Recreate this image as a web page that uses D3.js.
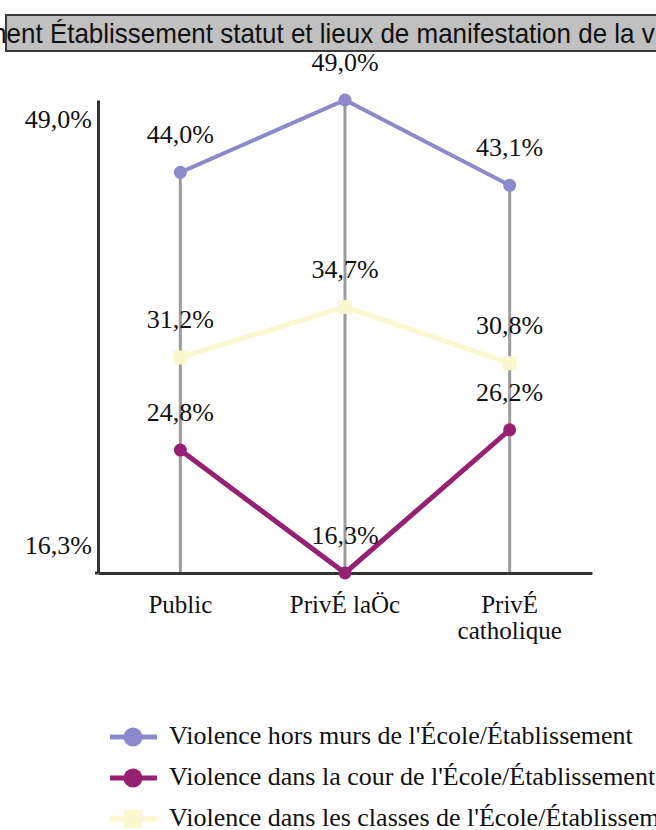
<!DOCTYPE html>
<html>
<head>
<meta charset="utf-8">
<script src="https://cdn.jsdelivr.net/npm/d3@7"></script>
<style>
  html, body { margin: 0; padding: 0; background: #fff; }
  svg { display: block; }
</style>
</head>
<body>
<div id="chart"></div>
<script>
/* ── Data ───────────────────────────────────────────────────────────── */
const categories = ['Public', 'PrivÉ laÖc', 'PrivÉ catholique'];
const categoryLines = [['Public'], ['PrivÉ laÖc'], ['PrivÉ', 'catholique']];
const seriesNames = [
  "Violence hors murs de l'École/Établissement",
  "Violence dans la cour de l'École/Établissement",
  "Violence dans les classes de l'École/Établissement"
];
const horsMurs = [44.0, 49.0, 43.1];
const cour     = [24.8, 16.3, 26.2];
const classes  = [31.2, 34.7, 30.8];
const yTicks   = [49.0, 16.3];
const title = "Répartition selon le type d'établissement Établissement statut et lieux de manifestation de la violence";

/* ── Style ──────────────────────────────────────────────────────────── */
const BLUE   = '#8b8bcc';
const PURPLE = '#962072';
const YELLOW = '#fbf8cf';
const SERIF  = "'Liberation Serif', 'Times New Roman', serif";

const series = [
  { name: seriesNames[0], values: horsMurs, color: BLUE,   shape: 'circle', width: 4 },
  { name: seriesNames[1], values: cour,     color: PURPLE, shape: 'circle', width: 5 },
  { name: seriesNames[2], values: classes,  color: YELLOW, shape: 'square', width: 5 }
];
const fmt = v => d3.format('.1f')(v).replace('.', ',') + '%';

const W = 656, H = 830;
const svg = d3.select('#chart').append('svg').attr('width', W).attr('height', H);

/* ── Title bar ──────────────────────────────────────────────────────── */
svg.append('rect')
  .attr('x', 6).attr('y', 15).attr('width', 720).attr('height', 36)
  .attr('fill', '#c0c0c0').attr('stroke', '#3a3a3a').attr('stroke-width', 2);
const tt = svg.append('text')
  .style('font-family', "'Liberation Sans Narrow', 'Arial Narrow', 'Liberation Sans', sans-serif")
  .style('font-size', '28px')
  .style('fill', '#111')
  .text(title);
// the bar only shows the middle of the title: "...ment Établissement ... de la v..."
const iE  = title.indexOf('Établissement');
const cut = title.indexOf('de la ') + 6;
const wE  = tt.node().getSubStringLength(0, iE);
const wC  = tt.node().getSubStringLength(0, cut);
const sx  = 592 / (wC - wE);
tt.attr('transform', `translate(${642 - sx * wC},43) scale(${sx},1)`);

/* ── Scales ─────────────────────────────────────────────────────────── */
const x = d3.scaleBand().domain(categories).range([98, 592]);
const cx = c => x(c) + x.bandwidth() / 2;
const y = d3.scaleLinear().domain([16.3, 49.0]).range([573, 100]);

/* ── Drop lines ─────────────────────────────────────────────────────── */
categories.forEach((c, i) => {
  const top = d3.max(series, s => s.values[i]);
  svg.append('line')
    .attr('x1', cx(c)).attr('x2', cx(c))
    .attr('y1', y(top)).attr('y2', y(16.3))
    .attr('stroke', '#9c9c9c').attr('stroke-width', 3);
});

/* ── Axes ───────────────────────────────────────────────────────────── */
const yAxis = svg.append('g')
  .attr('transform', 'translate(98,0)')
  .call(d3.axisLeft(y).tickValues(yTicks).tickSize(0).tickSizeOuter(0).tickPadding(6).tickFormat(fmt));
yAxis.select('.domain').attr('stroke', '#333').attr('stroke-width', 3);
yAxis.selectAll('text')
  .style('font-family', SERIF).style('font-size', '26px').style('fill', '#111')
  .attr('dy', d => d === 49.0 ? '1.05em' : '-0.75em');

const xAxis = svg.append('g')
  .attr('transform', 'translate(0,573)')
  .call(d3.axisBottom(x).tickSize(0).tickSizeOuter(0).tickFormat(''));
xAxis.select('.domain').attr('stroke', '#333').attr('stroke-width', 3);
xAxis.append('line').attr('x1', 95).attr('x2', 98).attr('stroke', '#333').attr('stroke-width', 3);
xAxis.selectAll('.tick').each(function(c, i) {
  const t = d3.select(this).append('text')
    .attr('y', 40)
    .attr('text-anchor', 'middle')
    .style('font-family', SERIF).style('font-size', '25px').style('fill', '#111');
  categoryLines[i].forEach((line, j) => {
    t.append('tspan').attr('x', 0).attr('dy', j === 0 ? 0 : 26).text(line);
  });
});

/* ── Lines, markers, labels ─────────────────────────────────────────── */
const line = d3.line().x((v, i) => cx(categories[i])).y(v => y(v));

series.forEach(s => {
  svg.append('path')
    .datum(s.values)
    .attr('d', line)
    .attr('fill', 'none')
    .attr('stroke', s.color)
    .attr('stroke-width', s.width);

  const g = svg.append('g');
  if (s.shape === 'circle') {
    g.selectAll('circle').data(s.values).join('circle')
      .attr('cx', (v, i) => cx(categories[i])).attr('cy', v => y(v))
      .attr('r', 6.5).attr('fill', s.color);
  } else {
    g.selectAll('rect').data(s.values).join('rect')
      .attr('x', (v, i) => cx(categories[i]) - 7).attr('y', v => y(v) - 7)
      .attr('width', 14).attr('height', 14).attr('fill', s.color);
  }

  g.selectAll('text').data(s.values).join('text')
    .attr('x', (v, i) => cx(categories[i]))
    .attr('y', v => y(v) - 29)
    .attr('text-anchor', 'middle')
    .style('font-family', SERIF).style('font-size', '26px').style('fill', '#111')
    .text(fmt);
});

/* ── Legend ─────────────────────────────────────────────────────────── */
const legend = svg.append('g');
series.forEach((s, i) => {
  const ly = 737 + i * 41;
  const row = legend.append('g').attr('transform', `translate(0,${ly})`);
  row.append('line')
    .attr('x1', 110).attr('x2', 157)
    .attr('stroke', s.color).attr('stroke-width', 5);
  if (s.shape === 'circle') {
    row.append('circle').attr('cx', 133).attr('r', 9.5).attr('fill', s.color);
  } else {
    row.append('rect').attr('x', 124).attr('y', -9).attr('width', 18).attr('height', 18).attr('fill', s.color);
  }
  row.append('text')
    .attr('x', 169).attr('y', 7)
    .style('font-family', SERIF).style('font-size', '26px').style('fill', '#111')
    .text(s.name);
});
</script>
</body>
</html>
